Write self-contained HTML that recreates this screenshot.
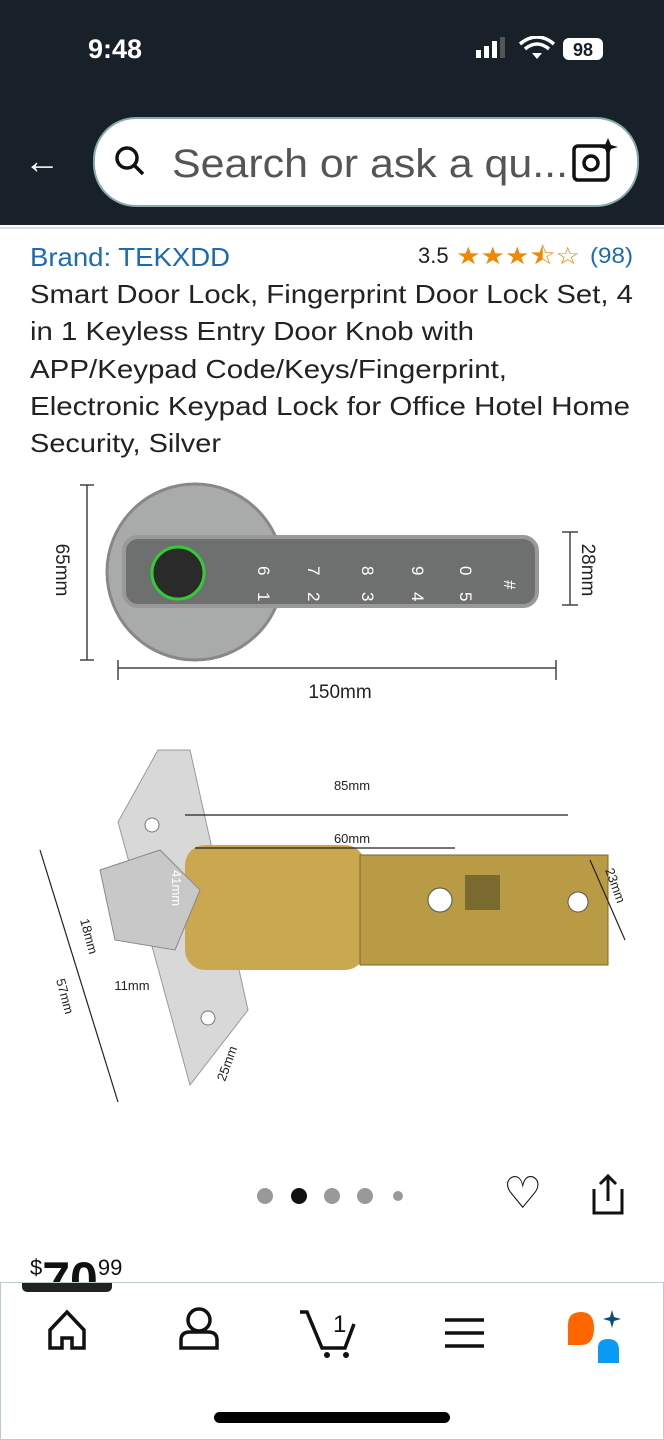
<!DOCTYPE html>
<html><head><meta charset="utf-8"><style>
body{margin:0;width:664px;height:1440px;position:relative;background:#fff;font-family:"Liberation Sans",sans-serif;overflow:hidden}
.hdr{position:absolute;left:0;top:0;width:664px;height:225px;background:#18202a}
</style></head><body>
<div class="hdr"></div>
<div style="position:absolute;left:88px;top:34px;color:#fff;font-weight:bold;font-size:27px">9:48</div>
<svg style="position:absolute;left:470px;top:36px" width="150" height="30">
<rect x="6" y="14" width="5" height="8" fill="#fff"/><rect x="14" y="10" width="5" height="12" fill="#fff"/><rect x="22" y="5" width="5" height="17" fill="#fff"/><rect x="30" y="1" width="5" height="21" fill="#555"/>
<path d="M50 8 Q67 -6 84 8" stroke="#fff" stroke-width="3.5" fill="none"/><path d="M55 13 Q67 3 79 13" stroke="#fff" stroke-width="3.5" fill="none"/><path d="M62 17 L67 23 L72 17 Z" fill="#fff"/>
<rect x="93" y="2" width="40" height="22" rx="6" fill="#fff"/><text x="113" y="20" text-anchor="middle" font-weight="bold" font-size="18" fill="#18202a" font-family="Liberation Sans">98</text>
</svg>
<div style="position:absolute;left:24px;top:140px;color:#fff;font-size:36px">←</div>
<div style="position:absolute;left:93px;top:117px;width:542px;height:86px;border-radius:43px;background:#fff;border:2px solid #8aa"></div>
<svg style="position:absolute;left:110px;top:143px" width="40" height="40"><circle cx="17" cy="15" r="10" stroke="#111" stroke-width="3.5" fill="none"/><line x1="24" y1="22" x2="33" y2="31" stroke="#111" stroke-width="3.5"/></svg>
<svg style="position:absolute;left:0;top:130px" width="664" height="70" font-family="Liberation Sans"><text x="172" y="47" font-size="40" fill="#555" textLength="396" lengthAdjust="spacingAndGlyphs">Search or ask a qu...</text></svg>
<svg style="position:absolute;left:570px;top:136px" width="50" height="50"><rect x="4" y="10" width="34" height="34" rx="4" stroke="#111" stroke-width="3.5" fill="none"/><circle cx="21" cy="27" r="7" stroke="#111" stroke-width="3.5" fill="none"/><path d="M38 2 L41 9 L48 11 L41 13 L38 20 L35 13 L28 11 L35 9Z" fill="#111"/></svg>
<div style="position:absolute;left:0;top:227px;width:664px;height:2px;background:#ddd"></div>
<svg style="position:absolute;left:0;top:230px" width="664" height="240" font-family="Liberation Sans" font-size="26">
<text x="30" y="36" fill="#1a6ab5" textLength="200" lengthAdjust="spacingAndGlyphs">Brand: TEKXDD</text>
<text x="418" y="33" font-size="22" fill="#222">3.5</text>
<text x="456" y="34" font-size="24" fill="#f08804" textLength="124" lengthAdjust="spacingAndGlyphs">★★★⯪☆</text>
<text x="590" y="33" font-size="22" fill="#1a6ab5" textLength="43" lengthAdjust="spacingAndGlyphs">(98)</text>
<g fill="#222">
<text x="30" y="73" textLength="603" lengthAdjust="spacingAndGlyphs">Smart Door Lock, Fingerprint Door Lock Set, 4</text>
<text x="30" y="110" textLength="444" lengthAdjust="spacingAndGlyphs">in 1 Keyless Entry Door Knob with</text>
<text x="30" y="148" textLength="477" lengthAdjust="spacingAndGlyphs">APP/Keypad Code/Keys/Fingerprint,</text>
<text x="30" y="185" textLength="600" lengthAdjust="spacingAndGlyphs">Electronic Keypad Lock for Office Hotel Home</text>
<text x="30" y="222" textLength="191" lengthAdjust="spacingAndGlyphs">Security, Silver</text>
</g></svg>
<svg style="position:absolute;left:0;top:470px" width="664" height="680" font-family="Liberation Sans">
<g stroke="#444" stroke-width="1.5" fill="none"><line x1="87" y1="15" x2="87" y2="190"/><line x1="80" y1="15" x2="94" y2="15"/><line x1="80" y1="190" x2="94" y2="190"/>
<line x1="118" y1="198" x2="556" y2="198"/><line x1="118" y1="190" x2="118" y2="210"/><line x1="556" y1="190" x2="556" y2="210"/>
<line x1="570" y1="62" x2="570" y2="135"/><line x1="562" y1="62" x2="578" y2="62"/><line x1="562" y1="135" x2="578" y2="135"/></g>
<text x="56" y="100" font-size="19" transform="rotate(90 56 100)" text-anchor="middle" fill="#222">65mm</text>
<text x="582" y="100" font-size="19" transform="rotate(90 582 100)" text-anchor="middle" fill="#222">28mm</text>
<text x="340" y="228" font-size="19" text-anchor="middle" fill="#222">150mm</text>
<circle cx="195" cy="102" r="88" fill="#a9abab" stroke="#888" stroke-width="3"/>
<rect x="124" y="67" width="413" height="69" rx="14" fill="#6e7070" stroke="#999" stroke-width="4"/>
<circle cx="178" cy="103" r="26" fill="#2a2a2a" stroke="#3c3" stroke-width="3"/>
<g fill="#fff" font-size="17"><text x="258" y="96" transform="rotate(90 258 96)">6</text><text x="258" y="122" transform="rotate(90 258 122)">1</text>
<text x="308" y="96" transform="rotate(90 308 96)">7</text><text x="308" y="122" transform="rotate(90 308 122)">2</text>
<text x="362" y="96" transform="rotate(90 362 96)">8</text><text x="362" y="122" transform="rotate(90 362 122)">3</text>
<text x="412" y="96" transform="rotate(90 412 96)">9</text><text x="412" y="122" transform="rotate(90 412 122)">4</text>
<text x="460" y="96" transform="rotate(90 460 96)">0</text><text x="460" y="122" transform="rotate(90 460 122)">5</text>
<text x="504" y="110" transform="rotate(90 504 110)">#</text></g>
<polygon points="158,280 190,280 248,540 190,615 118,352" fill="#d8d8d8" stroke="#999"/>
<rect x="185" y="375" width="180" height="125" rx="20" fill="#c9a850"/>
<rect x="360" y="385" width="248" height="110" fill="#b99a45" stroke="#7a6a30"/>
<path d="M100 400 L160 380 L200 420 L175 480 L115 470 Z" fill="#c8c8c8" stroke="#888"/>
<circle cx="152" cy="355" r="7" fill="#fff" stroke="#777"/><circle cx="208" cy="548" r="7" fill="#fff" stroke="#777"/>
<circle cx="440" cy="430" r="12" fill="#fff" stroke="#555"/><rect x="465" y="405" width="35" height="35" fill="#7a6a30"/><circle cx="578" cy="432" r="10" fill="#fff" stroke="#555"/>
<g stroke="#222" stroke-width="1.2"><line x1="185" y1="345" x2="568" y2="345"/><line x1="195" y1="378" x2="455" y2="378"/><line x1="40" y1="380" x2="118" y2="632"/><line x1="590" y1="390" x2="625" y2="470"/></g>
<g font-size="13" fill="#222"><text x="352" y="320" text-anchor="middle">85mm</text><text x="352" y="373" text-anchor="middle">60mm</text><text x="132" y="520" text-anchor="middle">11mm</text>
<text x="56" y="510" transform="rotate(75 56 510)">57mm</text><text x="80" y="450" transform="rotate(75 80 450)">18mm</text><text x="172" y="400" transform="rotate(90 172 400)" fill="#fff">41mm</text>
<text x="605" y="400" transform="rotate(70 605 400)">23mm</text><text x="225" y="612" transform="rotate(-70 225 612)">25mm</text></g>
</svg>
<svg style="position:absolute;left:250px;top:1180px" width="160" height="32"><circle cx="15" cy="16" r="8" fill="#999"/><circle cx="49" cy="16" r="8" fill="#111"/><circle cx="82" cy="16" r="8" fill="#999"/><circle cx="115" cy="16" r="8" fill="#999"/><circle cx="148" cy="16" r="5" fill="#999"/></svg>
<div style="position:absolute;left:503px;top:1168px;font-size:44px;color:#111">♡</div>
<svg style="position:absolute;left:590px;top:1173px" width="40" height="45"><path d="M4 16 V40 H32 V16" stroke="#111" stroke-width="3" fill="none"/><path d="M18 4 V28 M10 11 L18 3 L26 11" stroke="#111" stroke-width="3" fill="none"/></svg>
<div style="position:absolute;left:30px;top:1255px;font-size:38px;color:#111;height:27px;overflow:hidden"><span style="font-size:22px;vertical-align:top">$</span><span style="font-size:50px;font-weight:bold;line-height:50px">70</span><span style="font-size:22px;vertical-align:top">99</span></div>
<div style="position:absolute;left:0;top:1282px;width:662px;height:156px;border:1px solid #bcc;background:#fff"></div>
<div style="position:absolute;left:22px;top:1283px;width:90px;height:9px;border-radius:0 0 5px 5px;background:#222"></div>
<svg style="position:absolute;left:0;top:1300px" width="664" height="70">
<path d="M50 48 V30 L67 12 L84 30 V48 H72 V38 H62 V48 Z" stroke="#111" stroke-width="3.5" fill="none"/>
<circle cx="199" cy="20" r="11" stroke="#111" stroke-width="3.5" fill="none"/><path d="M181 48 V40 Q181 32 190 32 H208 Q217 32 217 40 V48 Z" stroke="#111" stroke-width="3.5" fill="none"/>
<path d="M300 12 H307 L322 48 H345 L354 24" stroke="#111" stroke-width="3.5" fill="none"/><circle cx="327" cy="55" r="3" fill="#111"/><circle cx="346" cy="55" r="3" fill="#111"/><text x="333" y="32" font-size="24" fill="#111" font-family="Liberation Sans">1</text>
<g stroke="#111" stroke-width="3.5"><line x1="445" y1="20" x2="484" y2="20"/><line x1="445" y1="33" x2="484" y2="33"/><line x1="445" y1="46" x2="484" y2="46"/></g>
<path d="M568 45 V25 Q568 12 581 12 Q594 12 594 28 Q594 45 581 45 Z" fill="#f60"/><path d="M598 63 V48 Q598 39 608 39 Q619 39 619 50 V63 Z" fill="#0a9af5"/><path d="M612 10 L614 17 L621 19 L614 21 L612 28 L610 21 L603 19 L610 17Z" fill="#0a4b7e"/>
</svg>
<div style="position:absolute;left:214px;top:1412px;width:236px;height:11px;border-radius:6px;background:#000"></div>
</body></html>
